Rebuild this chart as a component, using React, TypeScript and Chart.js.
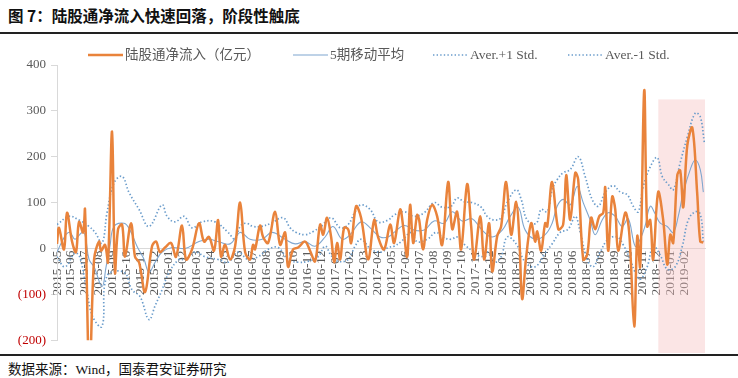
import React, { useEffect, useRef } from "react";
import { Chart, registerables } from "chart.js";

Chart.register(...registerables);

// months are counted from 2015-05 (0 = May 2015)
const flowMonth = [0, 0.14, 0.5, 0.72, 1.08, 1.36, 1.58, 1.87, 2.01, 2.33, 2.66, 3.02, 3.16, 3.45, 3.66, 3.95, 4.16, 4.38, 4.67, 4.88, 5.31, 5.6, 5.89, 6.32, 6.82, 7.11, 7.39, 7.75, 8.18, 8.54, 8.97, 9.26, 9.69, 10.19, 10.55, 10.91, 11.27, 11.56, 11.77, 12.06, 12.42, 12.78, 13.14, 13.5, 13.85, 14.07, 14.21, 14.57, 14.79, 15.15, 15.65, 16.01, 16.37, 16.58, 16.94, 17.3, 17.8, 18.16, 18.52, 18.88, 19.1, 19.38, 19.67, 19.89, 20.1, 20.32, 20.6, 20.89, 21.11, 21.46, 21.82, 22.33, 22.76, 23.04, 23.47, 23.91, 24.19, 24.62, 24.84, 25.13, 25.34, 25.56, 25.84, 25.99, 26.27, 26.56, 26.92, 27.28, 27.64, 28.07, 28.36, 28.71, 29.0, 29.43, 29.72, 29.94, 30.37, 30.65, 31.01, 31.23, 31.59, 31.87, 32.23, 32.59, 32.95, 33.17, 33.38, 33.67, 34.03, 34.31, 34.46, 34.74, 35.03, 35.18, 35.53, 35.97, 36.32, 36.54, 36.83, 37.19, 37.4, 37.76, 38.05, 38.33, 38.62, 38.91, 39.2, 39.34, 39.55, 39.84, 40.06, 40.27, 40.78, 41.06, 41.42, 41.64, 41.85, 42.14, 42.35, 42.57, 42.78, 43.14, 43.5, 43.79, 44.01, 44.22, 44.51, 44.72, 44.94, 45.23, 45.59, 45.94, 46.16, 46.38];
const flowValue = [10, 45, -2, 78, 15, -8, 58, 35, 85, -290, -24, 15, -5, 8, -30, 255, -52, 42, 52, -18, 55, -18, -30, -95, 5, 15, -8, 2, 12, -18, 50, -24, -2, 55, 15, 25, -5, 62, -18, 8, -24, 5, 100, -8, -24, 8, -2, 50, 25, 12, 80, 8, 35, -40, -2, 2, 15, -5, -28, 52, 30, 67, 25, -30, 12, -24, 45, 42, 12, 92, 67, -24, 62, 25, -2, 52, 12, 85, 48, -18, 95, 12, 73, 62, -2, 62, 95, 70, 8, 145, 42, 80, -2, 140, 48, -24, 70, -24, 55, -50, 27, 48, 145, 30, 102, 27, -110, -18, 55, 15, 37, -5, 55, 48, 145, 42, 52, 160, 62, 165, 150, -24, -13, 67, 42, 70, 78, 133, -5, 113, 85, -5, 78, 35, -170, 27, -40, 345, 48, 62, -24, 123, 62, -35, 30, 12, 160, 170, 90, 225, 263, 120, 15, 13];

const maMonth = [0, 0.57, 0.93, 1.29, 1.79, 2.01, 2.3, 2.66, 3.23, 3.52, 3.8, 4.09, 4.81, 5.24, 5.74, 6.25, 6.6, 7.04, 7.54, 8.26, 9.19, 10.19, 10.91, 11.56, 12.42, 13.14, 13.85, 14.72, 15.43, 16.37, 17.09, 17.8, 18.52, 19.24, 19.81, 20.46, 21.03, 21.82, 22.47, 23.19, 23.76, 24.19, 24.91, 25.63, 26.35, 27.06, 27.78, 28.36, 29.07, 29.79, 30.51, 31.23, 31.95, 32.52, 33.09, 33.6, 34.31, 35.03, 35.53, 35.89, 36.32, 36.83, 37.33, 37.76, 38.26, 38.62, 39.12, 39.55, 40.06, 40.56, 40.99, 41.49, 41.85, 42.21, 42.57, 42.93, 43.29, 43.79, 44.22, 44.58, 44.94, 45.44, 45.8, 46.16, 46.38];
const maValue = [-8, 27, 35, 20, 35, 30, -24, -40, -83, -40, 5, 48, 55, 40, 5, -24, -52, -30, -8, 2, 0, 15, 20, 15, 10, 35, 20, 20, 35, 20, 10, 15, 5, 25, 48, 20, 30, 58, 45, 25, 25, 35, 50, 40, 40, 60, 55, 80, 60, 65, 40, 25, 40, 70, 90, 40, 20, 30, 55, 92, 107, 95, 135, 100, 62, 30, 62, 78, 70, 48, 65, 5, 20, 50, 92, 75, 55, 48, 35, 70, 122, 172, 193, 172, 123];

const upMonth = [0, 0.86, 1.58, 2.3, 2.73, 3.23, 3.59, 4.09, 4.67, 5.17, 5.89, 6.6, 7.54, 7.9, 8.47, 9.12, 9.69, 10.41, 11.34, 12.28, 12.78, 13.14, 13.57, 14.07, 14.64, 15.36, 16.22, 16.73, 17.16, 17.8, 18.38, 18.95, 19.67, 20.32, 20.89, 21.39, 21.82, 22.47, 23.04, 23.76, 24.19, 24.91, 25.63, 26.35, 27.06, 27.64, 28.28, 28.71, 29.22, 29.79, 30.44, 30.87, 31.37, 31.87, 32.3, 32.95, 33.31, 33.74, 34.39, 34.74, 35.18, 35.53, 35.89, 36.32, 36.83, 37.4, 37.9, 38.4, 38.84, 39.34, 39.91, 40.42, 40.92, 41.35, 41.71, 42.07, 42.57, 43.07, 43.43, 43.86, 44.22, 44.72, 45.23, 45.8, 46.16, 46.45];
const upValue = [52, 70, 62, 48, 35, 12, 78, 143, 157, 122, 85, 48, 95, 70, 58, 70, 45, 58, 58, 35, 20, 48, 55, 48, 48, 55, 67, 45, 35, 30, 37, 48, 67, 45, 52, 80, 95, 85, 58, 62, 73, 80, 70, 78, 100, 90, 92, 110, 102, 100, 90, 70, 62, 67, 100, 128, 107, 62, 55, 85, 80, 128, 150, 165, 172, 200, 157, 107, 92, 122, 137, 123, 117, 92, 80, 135, 178, 198, 157, 140, 128, 187, 243, 295, 287, 232];

const lowMonth = [0, 0.57, 1.29, 1.65, 2.15, 2.58, 3.23, 3.59, 4.81, 5.38, 5.96, 6.6, 7.04, 7.54, 8.04, 8.76, 9.19, 9.91, 10.62, 11.56, 12.28, 12.99, 13.71, 14.43, 15.15, 15.87, 16.58, 17.3, 18.02, 18.74, 19.24, 19.67, 20.17, 20.89, 21.39, 21.82, 22.54, 23.26, 23.76, 24.19, 24.7, 25.41, 25.84, 26.56, 27.21, 27.64, 28.28, 28.71, 29.36, 29.79, 30.44, 30.87, 31.37, 31.87, 32.3, 32.95, 33.6, 34.31, 35.03, 35.53, 36.11, 36.68, 37.19, 37.55, 38.05, 38.48, 38.98, 39.55, 40.2, 40.63, 41.13, 41.49, 41.85, 42.35, 42.79, 43.29, 43.79, 44.36, 44.87, 45.3, 45.8, 46.16, 46.38];
const lowValue = [-18, -40, -10, -20, -95, -150, -170, -60, -52, -90, -105, -155, -125, -90, -52, -24, -24, -8, -18, -24, -30, -8, -24, -18, -2, 2, -24, -30, -28, -18, 5, -15, -28, -24, 5, 20, -2, -8, 2, 5, 15, 35, 15, 20, 35, 25, 20, 25, 5, -5, -18, -8, -30, -18, 25, 10, -30, -40, -10, 10, 35, 42, 70, 35, -24, -40, -8, 20, 25, 8, -24, -52, -67, -40, 5, -15, -45, -40, 5, 62, 80, 75, 15];

const yTicks = [-200, -100, 0, 100, 200, 300, 400];
const seriesNames = ["陆股通净流入（亿元）", "5期移动平均", "Aver.+1 Std.", "Aver.-1 Std."];
const highlightMonths = [43.15, 46.5];
const highlightValues = [-230, 325];

const titleText = "图 7：陆股通净流入快速回落，阶段性触底";
const sourceText = "数据来源：Wind，国泰君安证券研究";

const SERIF = '"Liberation Serif", "Noto Sans CJK SC", serif';

const monthLabel = (m: number) => {
  const total = 4 + Math.round(m);
  const y = 2015 + Math.floor(total / 12);
  const mo = (total % 12) + 1;
  return `${y}-${mo < 10 ? "0" + mo : mo}`;
};

const pts = (xs: number[], ys: number[]) => xs.map((x, i) => ({ x, y: ys[i] }));

const highlightPlugin = {
  id: "highlight",
  beforeDatasetsDraw(chart: any) {
    const { ctx, scales } = chart;
    const x0 = scales.x.getPixelForValue(highlightMonths[0]);
    const x1 = scales.x.getPixelForValue(highlightMonths[1]);
    const y0 = scales.y.getPixelForValue(highlightValues[1]);
    const y1 = scales.y.getPixelForValue(highlightValues[0]);
    ctx.save();
    ctx.fillStyle = "rgba(246, 192, 194, 0.42)";
    ctx.fillRect(x0, y0, x1 - x0, y1 - y0);
    ctx.restore();
  },
};

// hand-drawn legend, laid out like the original
const legendPlugin = {
  id: "customLegend",
  afterDraw(chart: any) {
    const { ctx } = chart;
    const starts = [88, 293, 433, 568];
    const y = 20;
    ctx.save();
    ctx.font = `13.5px ${SERIF}`;
    ctx.textBaseline = "middle";
    ctx.textAlign = "left";
    chart.data.datasets.forEach((ds: any, i: number) => {
      const x = starts[i];
      ctx.strokeStyle = ds.borderColor;
      ctx.lineWidth = ds.borderWidth;
      ctx.lineCap = "butt";
      ctx.setLineDash(ds.borderDash || []);
      ctx.beginPath();
      ctx.moveTo(x, y);
      ctx.lineTo(x + 35, y);
      ctx.stroke();
      ctx.setLineDash([]);
      ctx.fillStyle = "#595959";
      ctx.fillText(ds.label, x + 37, y + 0.5);
    });
    ctx.restore();
  },
};

export default function App() {
  const ref = useRef<HTMLCanvasElement | null>(null);
  useEffect(() => {
    document.body.style.margin = "0";
    const dot = "#6A9CCB";
    const chart = new Chart(ref.current as HTMLCanvasElement, {
      type: "line",
      data: {
        datasets: [
          {
            label: seriesNames[0],
            data: pts(flowMonth, flowValue),
            borderColor: "#E9833B",
            borderWidth: 2.5,
            tension: 0.35,
            pointRadius: 0,
          },
          {
            label: seriesNames[1],
            data: pts(maMonth, maValue),
            borderColor: "#7FA6CF",
            borderWidth: 1.1,
            tension: 0.4,
            pointRadius: 0,
          },
          {
            label: seriesNames[2],
            data: pts(upMonth, upValue),
            borderColor: dot,
            borderWidth: 1.7,
            borderDash: [1.4, 2.2],
            tension: 0.4,
            pointRadius: 0,
          },
          {
            label: seriesNames[3],
            data: pts(lowMonth, lowValue),
            borderColor: dot,
            borderWidth: 1.7,
            borderDash: [1.4, 2.2],
            tension: 0.4,
            pointRadius: 0,
          },
        ],
      },
      options: {
        responsive: false,
        animation: false,
        events: [],
        layout: { padding: { left: 0, right: 33, top: 30, bottom: 9 } },
        plugins: {
          tooltip: { enabled: false },
          legend: { display: false },
        },
        scales: {
          x: {
            type: "linear",
            position: { y: 0 },
            min: 0,
            max: 46.5,
            afterBuildTicks: (s: any) => {
              s.ticks = s.ticks.filter((t: any) => Number.isInteger(t.value));
            },
            grid: { display: false, drawTicks: false },
            border: { display: true, color: "#D9D9D9", width: 1 },
            ticks: {
              stepSize: 1,
              autoSkip: false,
              maxRotation: 90,
              minRotation: 90,
              padding: 2,
              color: "#595959",
              font: { family: SERIF, size: 13.5 },
              callback: (v: any) => monthLabel(Number(v)),
            },
          },
          y: {
            min: -200,
            max: 400,
            afterFit: (s: any) => {
              s.width = 57;
            },
            afterBuildTicks: (s: any) => {
              s.ticks = yTicks.map((v) => ({ value: v }));
            },
            grid: { drawOnChartArea: false, tickLength: 6, color: "#D9D9D9" },
            border: { display: true, color: "#D9D9D9" },
            ticks: {
              padding: 5,
              color: (c: any) => (c.tick && c.tick.value < 0 ? "#C00000" : "#595959"),
              font: { family: SERIF, size: 13 },
              callback: (v: any) => (Number(v) < 0 ? `(${-Number(v)})` : `${v}`),
            },
          },
        },
      },
      plugins: [highlightPlugin, legendPlugin],
    });
    return () => chart.destroy();
  }, []);

  return (
    <div style={{ position: "relative", width: 738, height: 378, background: "#fff", overflow: "hidden" }}>
      <div
        style={{
          position: "absolute",
          left: 8,
          top: 4,
          fontFamily: '"Noto Sans CJK SC", sans-serif',
          fontWeight: 700,
          fontSize: 15.5,
          color: "#111",
          whiteSpace: "nowrap",
        }}
      >
        {titleText}
      </div>
      <div style={{ position: "absolute", left: 0, top: 32, width: 738, height: 1.5, background: "#222" }} />
      <canvas ref={ref} width={738} height={318} style={{ position: "absolute", left: 0, top: 35 }} />
      <div style={{ position: "absolute", left: 0, top: 354, width: 738, height: 1.5, background: "#222" }} />
      <div
        style={{
          position: "absolute",
          left: 8,
          top: 358,
          fontFamily: SERIF,
          fontSize: 13.5,
          color: "#111",
          whiteSpace: "nowrap",
        }}
      >
        {sourceText}
      </div>
    </div>
  );
}
